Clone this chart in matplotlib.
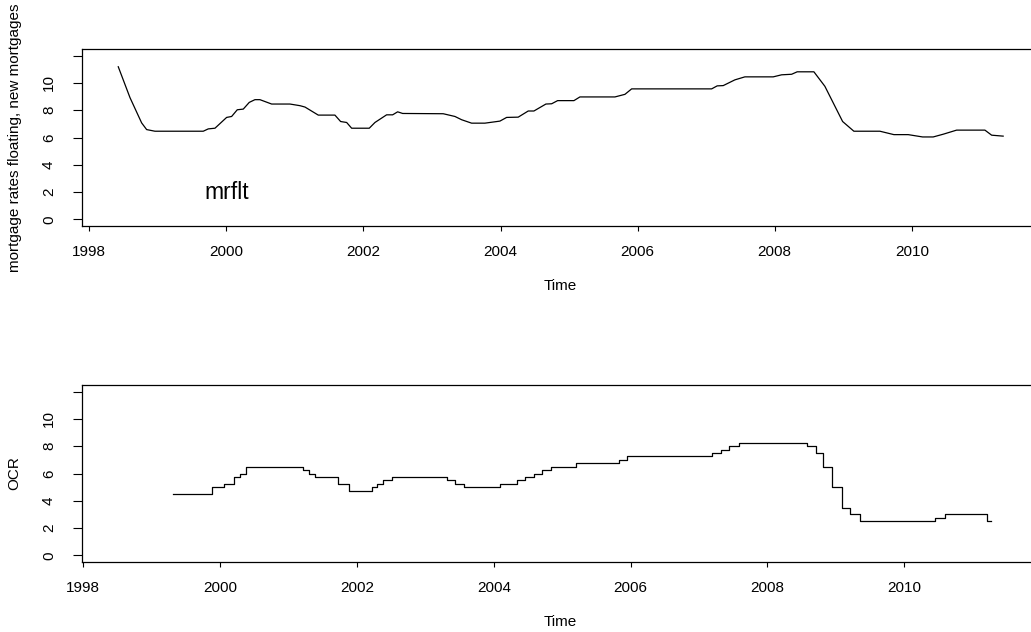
import matplotlib
matplotlib.use("Agg")
import matplotlib.pyplot as plt

plt.rcParams["font.family"] = ["Liberation Sans", "DejaVu Sans"]

# Floating mortgage rate for new mortgages (% p.a.), read at the turning points of the monthly series
mr_time = [1998.423, 1998.594, 1998.764, 1998.837, 1998.958, 1999.663, 1999.736, 1999.834,
           2000.004, 2000.077, 2000.159, 2000.247, 2000.334, 2000.417, 2000.490, 2000.661,
           2000.928, 2001.074, 2001.147, 2001.341, 2001.584, 2001.667, 2001.755, 2001.828,
           2002.085, 2002.168, 2002.338, 2002.426, 2002.499, 2002.572, 2003.164, 2003.335,
           2003.433, 2003.578, 2003.772, 2003.991, 2004.089, 2004.258, 2004.404, 2004.487,
           2004.662, 2004.746, 2004.833, 2005.071, 2005.158, 2005.669, 2005.815, 2005.913,
           2007.080, 2007.161, 2007.249, 2007.419, 2007.565, 2007.978, 2008.101, 2008.247,
           2008.328, 2008.572, 2008.732, 2008.991, 2009.155, 2009.535, 2009.739, 2009.948,
           2010.158, 2010.312, 2010.458, 2010.654, 2011.067, 2011.165, 2011.333]
mr_rate = [11.18, 8.92, 7.07, 6.58, 6.46, 6.46, 6.63, 6.68,
           7.47, 7.54, 8.03, 8.08, 8.57, 8.77, 8.77, 8.45,
           8.45, 8.33, 8.23, 7.64, 7.64, 7.17, 7.10, 6.68,
           6.68, 7.10, 7.66, 7.66, 7.88, 7.76, 7.74, 7.54,
           7.30, 7.05, 7.05, 7.20, 7.47, 7.49, 7.94, 7.94,
           8.45, 8.47, 8.70, 8.70, 8.97, 8.97, 9.16, 9.56,
           9.56, 9.78, 9.80, 10.22, 10.44, 10.44, 10.59, 10.63,
           10.81, 10.81, 9.75, 7.17, 6.46, 6.46, 6.21, 6.21,
           6.04, 6.04, 6.24, 6.54, 6.54, 6.17, 6.10]

# Official Cash Rate (%): time of each change and the level in force afterwards
ocr_time = [1999.316, 1999.876, 2000.051, 2000.197, 2000.295, 2000.379, 2001.206, 2001.304,
            2001.382, 2001.728, 2001.879, 2002.215, 2002.288, 2002.376, 2002.507, 2003.311,
            2003.434, 2003.570, 2004.086, 2004.335, 2004.458, 2004.583, 2004.706, 2004.838,
            2005.203, 2005.832, 2005.943, 2007.191, 2007.323, 2007.444, 2007.580, 2008.575,
            2008.712, 2008.819, 2008.946, 2009.092, 2009.209, 2009.350, 2010.456, 2010.598,
            2011.212]
ocr_rate = [4.50, 5.00, 5.25, 5.75, 6.00, 6.50, 6.25, 6.00,
            5.75, 5.25, 4.75, 5.00, 5.25, 5.50, 5.75, 5.50,
            5.25, 5.00, 5.25, 5.50, 5.75, 6.00, 6.25, 6.50,
            6.75, 7.00, 7.25, 7.50, 7.75, 8.00, 8.25, 8.00,
            7.50, 6.50, 5.00, 3.50, 3.00, 2.50, 2.75, 3.00,
            2.50]
ocr_last_time = 2011.270

x_ticks = [1998, 2000, 2002, 2004, 2006, 2008, 2010]
y_ticks = [0, 2, 4, 6, 8, 10, 12]
y_tick_labels = ["0", "2", "4", "6", "8", "10", ""]

W, H, DPI = 1031, 632, 100
fig = plt.figure(figsize=(W / DPI, H / DPI), dpi=DPI)


def panel(left, top, right, bottom):
    return fig.add_axes([left / W, 1 - bottom / H, (right - left) / W, (bottom - top) / H])


def style(ax, xlim, ylabel):
    ax.set_xlim(*xlim)
    ax.set_ylim(-0.48, 12.48)
    ax.set_xticks(x_ticks, [str(t) for t in x_ticks])
    ax.set_yticks(y_ticks, y_tick_labels, rotation=90, va="center")
    ax.tick_params(axis="x", length=3.8, width=0.8, pad=10, labelsize=11)
    ax.tick_params(axis="y", length=6.7, width=0.8, pad=12, labelsize=11)
    for s in ax.spines.values():
        s.set_linewidth(0.9)
        s.set_color("black")
    ax.set_xlabel("Time", fontsize=11)
    ax.xaxis.set_label_coords(0.5, -0.30)
    ax.set_ylabel(ylabel, fontsize=11)
    ax.yaxis.set_label_coords(-0.063, 0.5)


ax1 = panel(82, 49, 1039, 226)
ax1.plot(mr_time, mr_rate, color="black", linewidth=0.9)
ax1.text(2000, 2, "mrflt", fontsize=16.5, ha="center", va="center")
style(ax1, (1997.894, 2011.856), "mortgage rates floating, new mortgages")

ax2 = panel(82, 385, 1039, 562)
ax2.step(ocr_time + [ocr_last_time], ocr_rate + [ocr_rate[-1]], where="post",
         color="black", linewidth=0.9)
style(ax2, (1997.98, 2011.97), "OCR")

fig.savefig("out.png", dpi=DPI)
